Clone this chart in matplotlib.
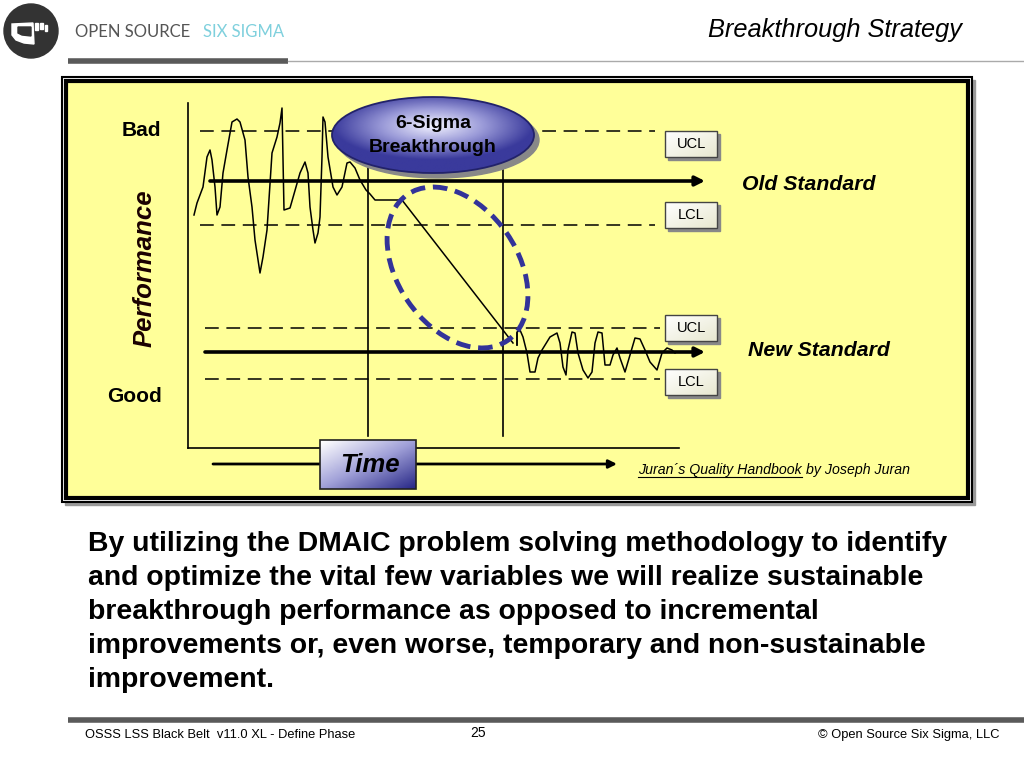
import numpy as np
import matplotlib
matplotlib.use('Agg')
import matplotlib.pyplot as plt
from matplotlib.patches import Rectangle, Ellipse, Circle, Polygon
from matplotlib.colors import LinearSegmentedColormap

plt.rcParams['font.family'] = ['Liberation Sans', 'DejaVu Sans']

# --- data (slide pixel units) ---
# old process, wandering between the old control limits
old_x = [194, 197, 203, 207, 210, 212, 215, 217, 220, 223, 227, 232, 237, 240, 245, 248,
         252, 255, 260, 263, 267, 272, 277, 280, 282, 284, 290, 300, 305, 308, 310, 313,
         315, 318, 320, 322, 323, 325, 328, 333, 337, 342, 347, 350, 355, 360, 366, 370, 375, 402]
old_y = [215, 203, 187, 157, 150, 160, 187, 215, 207, 173, 150, 122, 119, 122, 140, 177,
         207, 240, 273, 257, 230, 153, 137, 123, 108, 210, 208, 173, 162, 173, 207, 230,
         243, 233, 217, 157, 117, 122, 157, 187, 195, 187, 163, 162, 168, 180, 190, 194, 200, 200]
# the breakthrough shift
shift_x = [402, 513]
shift_y = [200, 343]
# new process, between the new control limits
new_x = [517, 517, 520, 523, 527, 530, 535, 538, 542, 550, 557, 560, 563, 566, 568, 572,
         575, 578, 583, 588, 592, 595, 598, 602, 605, 610, 613, 617, 620, 625, 630, 635,
         640, 645, 650, 657, 662, 667, 672, 675]
new_y = [345, 332, 330, 337, 353, 372, 372, 358, 350, 337, 333, 343, 367, 375, 350, 332,
         333, 353, 370, 378, 372, 343, 332, 333, 365, 365, 355, 348, 358, 372, 355, 338,
         339, 350, 362, 370, 353, 348, 350, 353]

limit_names = ['UCL', 'LCL', 'UCL', 'LCL']
limit_levels = [131, 225, 328, 379]
box_tops = [131, 202, 315, 369]
standard_names = ['Old Standard', 'New Standard']
standard_levels = [181, 352]

body = ["By utilizing the DMAIC problem solving methodology to identify",
        "and optimize the vital few variables we will realize sustainable",
        "breakthrough performance as opposed to incremental",
        "improvements or, even worse, temporary and non-sustainable",
        "improvement."]

YELLOW = '#FFFF99'
BLUE = '#333399'

fig = plt.figure(figsize=(10.24, 7.68), dpi=100)
ax = fig.add_axes([0, 0, 1, 1])
ax.set_xlim(0, 1024)
ax.set_ylim(768, 0)
ax.axis('off')


def gradient_fill(patch, img, cmap, extent, z):
	patch.set_zorder(z)
	ax.add_patch(patch)
	im = ax.imshow(img, cmap=cmap, extent=extent, origin='upper',
	               interpolation='bilinear', zorder=z, aspect='auto')
	im.set_clip_path(patch)
	return im


# header / logo
ax.add_patch(Circle((31, 31), 27, color='#333333', zorder=2))
ax.add_patch(Polygon([(12, 24), (33, 23), (34, 44), (24, 43), (16, 40), (12, 35)],
                     color='white', zorder=3))
ax.add_patch(Polygon([(18, 27), (31, 27), (31, 36), (22, 35), (18, 33)],
                     color='#333333', zorder=3.5))
ax.add_patch(Rectangle((35, 23), 3, 7, color='white', zorder=3))
ax.add_patch(Rectangle((40, 23), 3, 6, color='white', zorder=3))
ax.add_patch(Rectangle((45, 25), 2, 6, color='white', zorder=3))
ax.text(75, 32, 'OPEN SOURCE', fontsize=12, color='#555555', va='center',
        family='Lato')
ax.text(203, 32, 'SIX SIGMA', fontsize=12, color='#7FD0DD', va='center',
        family='Lato')
ax.plot([68, 288], [61, 61], color='#5a5a5a', lw=4, solid_capstyle='butt')
ax.plot([288, 1024], [61, 61], color='#aaaaaa', lw=1)
ax.text(962, 30, 'Breakthrough Strategy', fontsize=18.3, style='italic',
        ha='right', va='center')

# framed yellow panel
ax.add_patch(Rectangle((65, 80), 910, 425, color='#999999', zorder=1))
ax.add_patch(Rectangle((62, 77), 910, 425, facecolor='white', edgecolor='black',
                       lw=1.5, zorder=1.5))
ax.add_patch(Rectangle((66, 81), 902, 417, facecolor=YELLOW, edgecolor='black',
                       lw=3, zorder=1.6))

# axes of the sketch
ax.plot([188, 188], [103, 448], color='black', lw=1.2, zorder=3)
ax.plot([188, 679], [448, 448], color='black', lw=1.2, zorder=3)
ax.plot([368, 368], [150, 436], color='black', lw=1.2, zorder=3)
ax.plot([503, 503], [170, 436], color='black', lw=1.2, zorder=3)

# control limits
for i, lvl in enumerate(limit_levels):
	x0, x1 = (200, 655) if i < 2 else (205, 660)
	ax.plot([x0, x1], [lvl, lvl], color='black', lw=1.1, dashes=(9, 5), zorder=3)

# standards (arrows)
arrow_ends = [(210, 705), (205, 705)]
for (x0, x1), lvl in zip(arrow_ends, standard_levels):
	ax.annotate('', xy=(x1, lvl), xytext=(x0, lvl), zorder=4,
	            arrowprops=dict(arrowstyle='-|>', lw=2.6, color='black',
	                            mutation_scale=14, shrinkA=0, shrinkB=0))
ax.text(742, 184, standard_names[0], fontsize=15.3, weight='bold', style='italic',
        va='center')
ax.text(748, 351, standard_names[1], fontsize=15.3, weight='bold', style='italic',
        va='center')

# process traces
ax.plot(old_x, old_y, color='black', lw=1.1, zorder=5)
ax.plot(shift_x, shift_y, color='black', lw=1.1, zorder=5)
ax.plot([517, 517], [333, 345], color='black', lw=1.1, zorder=5)
ax.plot(new_x, new_y, color='black', lw=1.1, zorder=5)

# dashed ring around the shift
ax.add_patch(Ellipse((457.5, 267.5), 177, 120, angle=55.5, fill=False, edgecolor=BLUE,
                     lw=3.5, linestyle=(0, (3, 1.6)), zorder=6))

# limit boxes
box_cmap = LinearSegmentedColormap.from_list('box', ['#FFFFFF', '#E8E8D0'])
gx, gy = np.meshgrid(np.linspace(0, 1, 40), np.linspace(0, 1, 20))
for name, top in zip(limit_names, box_tops):
	ax.add_patch(Rectangle((668, top + 3), 52, 26, color='#888888', zorder=6))
	box = Rectangle((665, top), 52, 26, facecolor='none')
	gradient_fill(box, (gx + gy) / 2, box_cmap, (665, 717, top + 26, top), 7)
	ax.add_patch(Rectangle((665, top), 52, 26, facecolor='none', edgecolor='#444444',
	                       lw=1, zorder=7.5))
	ax.text(691, top + 13, name, fontsize=10.5, ha='center', va='center', zorder=8)

# 6-Sigma Breakthrough ellipse
ax.add_patch(Ellipse((438, 140), 202, 76, color='#888888', zorder=7))
ell_cmap = LinearSegmentedColormap.from_list('ell', ['#F2F2FF', '#9A9AD8', '#3A3A9C'])
ex, ey = np.meshgrid(np.linspace(-1, 1, 120), np.linspace(-1, 1, 60))
r = np.clip(np.sqrt(ex ** 2 + ((ey + 0.25) * 1.1) ** 2), 0, 1)
ell = Ellipse((433, 135), 202, 76, facecolor='none')
gradient_fill(ell, r, ell_cmap, (332, 534, 173, 97), 8)
ax.add_patch(Ellipse((433, 135), 202, 76, facecolor='none', edgecolor='#22226a',
                     lw=1.3, zorder=8.5))
ax.text(433, 124, '6-Sigma', fontsize=14, weight='bold', ha='center',
        va='center', zorder=9)
ax.text(433, 147, 'Breakthrough', fontsize=14, weight='bold', ha='center',
        va='center', zorder=9)

# labels
ax.text(141, 131, 'Bad', fontsize=15, weight='bold', ha='center', va='center')
ax.text(135, 397, 'Good', fontsize=15, weight='bold', ha='center', va='center')
ax.text(145, 268, 'Performance', fontsize=18.5, weight='bold', style='italic',
        rotation=90, ha='center', va='center', color='#1a0000')

# time axis
ax.annotate('', xy=(617, 464), xytext=(213, 464), zorder=4,
            arrowprops=dict(arrowstyle='-|>', lw=2, color='black',
                            mutation_scale=12, shrinkA=0, shrinkB=0))
time_cmap = LinearSegmentedColormap.from_list('time', ['#FFFFFF', '#A0A0D8', '#2A2A88'])
tb = Rectangle((320, 440), 96, 49, facecolor='none')
gradient_fill(tb, (gx + gy) / 2, time_cmap, (320, 416, 489, 440), 7)
ax.add_patch(Rectangle((320, 440), 96, 49, facecolor='none', edgecolor='#222222',
                       lw=1.2, zorder=7.5))
ax.text(370, 465, 'Time', fontsize=18.5, weight='bold', style='italic', ha='center',
        va='center', zorder=8)

# citation
cite = ax.text(638, 470, 'Juran\u00b4s Quality Handbook', fontsize=10.2, style='italic',
               va='center')
fig.canvas.draw()
bb = cite.get_window_extent().transformed(ax.transData.inverted())
ax.plot([bb.x0, bb.x1], [477, 477], color='black', lw=0.8)
ax.text(bb.x1 + 4, 470, 'by Joseph Juran', fontsize=10.2, style='italic', va='center')

# body paragraph
for i, line in enumerate(body):
	ax.text(88, 544 + i * 34, line, fontsize=20.4, weight='bold', va='center')

# footer
ax.plot([68, 1024], [720, 720], color='#5a5a5a', lw=4, solid_capstyle='butt')
ax.text(85, 735, 'OSSS LSS Black Belt  v11.0 XL - Define Phase', fontsize=9.3,
        va='center')
ax.text(478, 733, '25', fontsize=10, ha='center', va='center')
ax.text(1000, 735, '\u00a9 Open Source Six Sigma, LLC', fontsize=9.3, ha='right',
        va='center')

fig.savefig('out.png', dpi=100)
